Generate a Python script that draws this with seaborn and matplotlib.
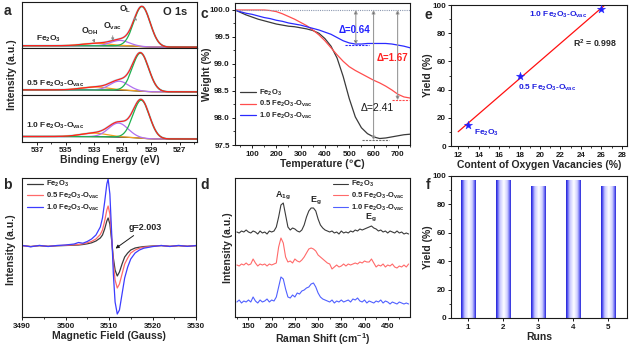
import numpy as np
import pandas as pd
import matplotlib
matplotlib.use("Agg")
import matplotlib.pyplot as plt
import seaborn as sns
from matplotlib.ticker import MultipleLocator, FormatStrFormatter, FixedLocator
from matplotlib.colors import LinearSegmentedColormap

# ---------------------------------------------------------------- labels
FE = r"Fe$_2$O$_3$"
S05 = r"0.5 Fe$_2$O$_3$-O$_{vac}$"
S10 = r"1.0 Fe$_2$O$_3$-O$_{vac}$"
samples = [FE, S05, S10]

# ---------------------------------------------------------------- (a) XPS O 1s fit components
ol_center = [529.65, 529.75, 529.70]
ol_height = [40.0, 38.0, 38.0]
ol_fwhm = [1.35, 1.35, 1.35]
ov_center = [531.20, 531.25, 531.30]
ov_height = [5.5, 9.0, 14.0]
ov_fwhm = [1.50, 1.50, 1.60]
oh_center = [532.8, 532.9, 533.0]
oh_height = [2.5, 3.0, 3.5]
oh_fwhm = [2.2, 2.2, 2.2]
bg_high = [2.5, 5.0, 5.0]
bg_low = [1.0, 3.0, 2.5]
be_ticks = [537, 535, 533, 531, 529, 527]

# ---------------------------------------------------------------- (b) EPR
field = [3490, 3492, 3494, 3496, 3498, 3500, 3502, 3503, 3504, 3505, 3506, 3507,
         3508, 3508.5, 3509, 3509.5, 3509.8, 3510.2, 3510.6, 3511, 3511.4, 3511.9,
         3512.4, 3513, 3513.6, 3514.3, 3515, 3516, 3517, 3518, 3520, 3522, 3524,
         3526, 3528, 3530]
epr_fe = [0.5, -0.5, 0.3, -0.3, 0.2, 0.5, 0.8, 1.0, 1.5, 2.2, 3.2, 5, 8, 11, 17, 25,
          28, 22, 6, -12, -24, -30, -26, -18, -11, -7, -4, -2, -1.2, -0.6, 0, 0.4,
          -0.3, 0.3, -0.2, 0.3]
epr_05 = [0.3, -0.6, 0.5, -0.4, 0.4, 0.7, 1.2, 1.5, 2.2, 3.2, 4.6, 7, 11.5, 16, 25,
          36, 40, 32, 9, -17, -34, -42, -38, -28, -18, -12, -7, -4, -2.2, -1.2,
          -0.3, 0.5, -0.4, 0.4, -0.3, 0.4]
epr_10 = [0.6, -0.8, 0.6, -0.5, 0.5, 1.0, 2.0, 3.5, 2.8, 4.5, 7, 11, 19, 28, 44, 62,
          67, 52, 14, -28, -56, -68, -64, -48, -32, -21, -13, -7, -4, -2.2, -0.6,
          0.5, -0.5, 0.6, -0.4, 0.5]

# ---------------------------------------------------------------- (c) TGA
temp = [30, 50, 75, 100, 125, 150, 175, 200, 225, 250, 275, 300, 325, 350, 375, 400,
        425, 450, 475, 500, 525, 550, 575, 600, 625, 650, 675, 700, 725, 750]
tga_fe = [100.00, 99.96, 99.91, 99.87, 99.83, 99.80, 99.77, 99.74, 99.72, 99.70,
          99.69, 99.67, 99.65, 99.62, 99.57, 99.47, 99.33, 99.11, 98.77, 98.36,
          98.02, 97.82, 97.71, 97.65, 97.62, 97.63, 97.65, 97.67, 97.69, 97.70]
tga_05 = [100.00, 100.00, 100.00, 100.00, 100.00, 100.00, 99.99, 99.97, 99.93, 99.88,
          99.83, 99.77, 99.71, 99.63, 99.54, 99.43, 99.30, 99.17, 99.05, 98.95,
          98.88, 98.82, 98.76, 98.70, 98.65, 98.59, 98.52, 98.44, 98.39, 98.37]
tga_10 = [100.00, 99.97, 99.94, 99.92, 99.89, 99.86, 99.84, 99.81, 99.79, 99.76,
          99.74, 99.72, 99.69, 99.66, 99.63, 99.59, 99.55, 99.49, 99.43, 99.39,
          99.37, 99.37, 99.38, 99.38, 99.38, 99.38, 99.37, 99.35, 99.33, 99.30]
tga_loss = [2.41, 1.67, 0.64]

# ---------------------------------------------------------------- (d) Raman
raman_shift = list(range(125, 500, 5))
raman_fe = [85, 84, 86, 85, 87, 85, 84, 86, 85, 83, 86, 84, 85, 83, 86, 85, 86, 90,
            100, 112, 114, 102, 90, 87, 89, 88, 86, 85, 87, 92, 100, 106, 109, 109,
            106, 98, 92, 89, 87, 86, 85, 86, 84, 85, 83, 86, 84, 85, 84, 86, 85, 87,
            86, 88, 87, 88, 89, 90, 91, 89, 88, 86, 87, 85, 86, 84, 86, 85, 84, 86,
            84, 85, 83, 84, 83]
raman_05 = [52, 51, 53, 52, 54, 52, 53, 58, 54, 51, 53, 52, 53, 51, 53, 52, 53, 54,
            70, 79, 74, 60, 55, 56, 54, 58, 56, 55, 57, 60, 64, 68, 69, 68, 66, 62,
            60, 58, 56, 54, 53, 48, 50, 52, 50, 51, 53, 51, 53, 52, 53, 54, 53, 55,
            54, 56, 55, 55, 58, 54, 50, 52, 51, 53, 50, 52, 51, 53, 50, 49, 51, 50,
            52, 50, 53]
raman_10 = [15, 17, 14, 16, 15, 17, 15, 20, 16, 14, 17, 15, 16, 18, 15, 17, 16, 20,
            30, 40, 38, 28, 20, 19, 22, 20, 24, 23, 26, 27, 29, 30, 33, 34, 30, 24,
            20, 18, 17, 16, 15, 17, 14, 16, 15, 17, 15, 16, 17, 15, 18, 17, 19, 16,
            15, 17, 14, 16, 15, 14, 16, 15, 17, 14, 16, 15, 13, 15, 14, 13, 15, 14,
            13, 14, 13]

# ---------------------------------------------------------------- (e) yield vs vacancy content
vac_content = [13.0, 18.0, 26.0]
yield_vs_vac = [15.0, 50.0, 97.0]

# ---------------------------------------------------------------- (f) recycling runs
runs = [1, 2, 3, 4, 5]
run_yield = [97, 97, 93, 97, 93]

# ---------------------------------------------------------------- style
sns.set_theme(style="ticks")
plt.rcParams["font.family"] = ["Liberation Sans", "DejaVu Sans"]
plt.rcParams.update({
    "font.weight": "bold",
    "axes.labelweight": "bold",
    "mathtext.default": "regular",
    "axes.linewidth": 0.8,
    "axes.edgecolor": "#1a1a1a",
    "xtick.color": "#1a1a1a",
    "ytick.color": "#1a1a1a",
    "xtick.direction": "out",
    "ytick.direction": "out",
    "xtick.major.size": 2.5,
    "ytick.major.size": 2.5,
    "xtick.minor.size": 1.5,
    "ytick.minor.size": 1.5,
    "xtick.major.width": 0.7,
    "ytick.major.width": 0.7,
    "xtick.minor.width": 0.6,
    "ytick.minor.width": 0.6,
    "xtick.labelsize": 5.8,
    "ytick.labelsize": 5.8,
    "xtick.major.pad": 1.5,
    "ytick.major.pad": 1.2,
    "axes.labelsize": 7.5,
    "axes.labelpad": 1.0,
})

BLACK = "#3a3a3a"
RED = "#ff4d4d"
BLUE = "#3c3cff"

FIG_W, FIG_H = 630, 349
fig = plt.figure(figsize=(FIG_W / 100, FIG_H / 100), dpi=100)


def place(left, top, right, bottom):
    return fig.add_axes([left / FIG_W, 1 - bottom / FIG_H,
                         (right - left) / FIG_W, (bottom - top) / FIG_H])


def fig_text(x, y, s, **kw):
    fig.text(x / FIG_W, 1 - y / FIG_H, s, **kw)


def gauss(x, c, h, w):
    return h * np.exp(-4 * np.log(2) * ((x - c) / w) ** 2)


def legend_small(ax, **kw):
    leg = ax.legend(frameon=False, fontsize=5.5, handlelength=2.0,
                    handletextpad=0.4, labelspacing=0.2, borderpad=0.2, **kw)
    for t in leg.get_texts():
        t.set_fontweight("bold")
    return leg


# ================================================================ (a)
be = np.linspace(538.05, 525.8, 500)
edges = np.linspace(1.5, 141.5, 4)
label_y = [9.2, 11.4, 15.7]
xps_axes = []
for i in range(3):
    ax = place(22, edges[i], 197, edges[i + 1])
    g_l = gauss(be, ol_center[i], ol_height[i], ol_fwhm[i])
    g_v = gauss(be, ov_center[i], ov_height[i], ov_fwhm[i])
    g_h = gauss(be, oh_center[i], oh_height[i], oh_fwhm[i])
    total = g_l + g_v + g_h
    # Shirley-type background: step proportional to the area on the low-BE side
    cum = np.cumsum(total[::-1])[::-1]
    bg = bg_low[i] + (bg_high[i] - bg_low[i]) * cum / cum[0]
    sns.lineplot(x=be, y=total + bg, ax=ax, color="#b4eef6", lw=1.6, errorbar=None)
    sns.lineplot(x=be, y=bg, ax=ax, color="#202020", lw=0.8, errorbar=None)
    sns.lineplot(x=be, y=g_h + bg, ax=ax, color="#f0a020", lw=0.9, errorbar=None)
    sns.lineplot(x=be, y=g_v + bg, ax=ax, color="#b070f0", lw=0.9, errorbar=None)
    sns.lineplot(x=be, y=g_l + bg, ax=ax, color="#20b050", lw=0.9, errorbar=None)
    sns.lineplot(x=be, y=total + bg, ax=ax, color="#ff2020", lw=0.9, errorbar=None)
    ax.set_xlim(538.05, 525.8)
    ax.set_ylim(0, 46.7)
    ax.set_yticks([])
    ax.set_ylabel("")
    ax.xaxis.set_major_locator(FixedLocator(be_ticks))
    ax.xaxis.set_minor_locator(FixedLocator([t - 1 for t in be_ticks]))
    if i < 2:
        ax.tick_params(axis="x", which="both", bottom=False, labelbottom=False)
    else:
        ax.set_xlabel("Binding Energy (eV)")
    left = 537.1 if i == 0 else 537.75
    ax.text(left, label_y[i], samples[i], fontsize=6.0, ha="left", va="center")
    xps_axes.append(ax)

ax = xps_axes[0]
ax.text(526.5, 36.5, "O 1s", fontsize=8, ha="right", va="center")
arrow_kw = dict(arrowstyle="-|>", color="#8a8a8a", lw=0.6, mutation_scale=4,
                shrinkA=0, shrinkB=0)
ax.annotate(r"O$_L$", xy=(530.0, 27.5), xytext=(530.8, 38.5), fontsize=6.3,
            ha="center", va="center", arrowprops=arrow_kw)
ax.annotate(r"O$_{OH}$", xy=(532.95, 5.5), xytext=(533.3, 16.5), fontsize=6.3,
            ha="center", va="center", arrowprops=arrow_kw)
ax.annotate(r"O$_{vac}$", xy=(531.7, 7.2), xytext=(531.7, 21.5), fontsize=6.3,
            ha="center", va="center", arrowprops=arrow_kw)
fig_text(12, 75, "Intensity (a.u.)", rotation=90, ha="center", va="center",
         fontsize=7.5, fontweight="bold")

# ================================================================ (b)
ax = place(22, 178, 196, 317)
epr = pd.DataFrame({"field": field * 3,
                    "signal": epr_fe + epr_05 + epr_10,
                    "sample": [FE] * len(field) + [S05] * len(field) + [S10] * len(field)})
sns.lineplot(data=epr, x="field", y="signal", hue="sample", hue_order=samples,
             palette=[BLACK, "#ff6a6a", BLUE], lw=0.9, ax=ax, errorbar=None)
ax.set_xlim(3490, 3530)
ax.set_ylim(-71, 68)
ax.set_yticks([])
ax.set_ylabel("")
ax.xaxis.set_major_locator(MultipleLocator(10))
ax.xaxis.set_minor_locator(MultipleLocator(5))
ax.set_xlabel("Magnetic Field (Gauss)")
legend_small(ax, loc="upper left", bbox_to_anchor=(0.0, 1.03))
ax.annotate("g=2.003", xy=(3511.5, -2.5), xytext=(3514.6, 19), fontsize=6.5,
            ha="left", va="center",
            arrowprops=dict(arrowstyle="-|>", color="#1a1a1a", lw=0.7,
                            mutation_scale=5, shrinkA=1, shrinkB=0))
fig_text(11, 250, "Intensity (a.u.)", rotation=90, ha="center", va="center",
         fontsize=7.5, fontweight="bold")

# ================================================================ (c)
ax = place(235, 2.7, 410, 145)
tga = pd.DataFrame({"temp": temp * 3,
                    "weight": tga_fe + tga_05 + tga_10,
                    "sample": [FE] * len(temp) + [S05] * len(temp) + [S10] * len(temp)})
sns.lineplot(data=tga, x="temp", y="weight", hue="sample", hue_order=samples,
             palette=[BLACK, RED, "#2a2aff"], lw=0.9, ax=ax, errorbar=None)
ax.set_xlim(30, 750)
ax.set_ylim(97.5, 100.135)
ax.xaxis.set_major_locator(MultipleLocator(100))
ax.xaxis.set_minor_locator(MultipleLocator(50))
ax.yaxis.set_major_locator(MultipleLocator(0.5))
ax.yaxis.set_minor_locator(MultipleLocator(0.25))
ax.yaxis.set_major_formatter(FormatStrFormatter("%.1f"))
ax.set_xlabel("Temperature (\u2103)")
ax.set_ylabel("")
ax.axhline(100.0, color="#8c98b0", lw=0.8, ls=(0, (1, 1)))
legend_small(ax, loc="lower left", bbox_to_anchor=(0.0, 0.13))

arrow_x = [600, 699, 527]
level_span = [(552, 662), (675, 745), (484, 580)]
level_color = ["#707070", RED, "#2a2aff"]
label_pos = [(614, 98.19), (676, 99.11), (521, 99.63)]
label_color = ["#1a1a1a", "#ff2020", "#2020ff"]
label_weight = ["normal", "bold", "bold"]
label_size = [7.5, 7, 7]
for k in range(3):
    end = 100.0 - tga_loss[k]
    ax.annotate("", xy=(arrow_x[k], end), xytext=(arrow_x[k], 100.0),
                arrowprops=dict(arrowstyle="<|-|>", ec="#9a9a9a", fc="#1a1a1a",
                                lw=0.8, mutation_scale=5, shrinkA=0, shrinkB=0))
    ax.plot(level_span[k], [end, end], color=level_color[k], lw=0.8, ls=(0, (2, 1)))
    ax.text(*label_pos[k], f"\u0394={tga_loss[k]:.2f}", color=label_color[k],
            fontsize=label_size[k], fontweight=label_weight[k], ha="center", va="center")
fig_text(207, 74, "Weight (%)", rotation=90, ha="center", va="center",
         fontsize=7.5, fontweight="bold")

# ================================================================ (d)
ax = place(235, 178, 410, 317)
n = len(raman_shift)
raman = pd.DataFrame({"shift": raman_shift * 3,
                      "intensity": raman_fe + raman_05 + raman_10,
                      "sample": [FE] * n + [S05] * n + [S10] * n})
sns.lineplot(data=raman, x="shift", y="intensity", hue="sample", hue_order=samples,
             palette=[BLACK, "#ff6a6a", "#5060ff"], lw=0.8, ax=ax, errorbar=None)
ax.set_xlim(121, 498)
ax.set_ylim(0, 139)
ax.set_yticks([])
ax.set_ylabel("")
ax.xaxis.set_major_locator(MultipleLocator(50))
ax.xaxis.set_minor_locator(MultipleLocator(25))
ax.set_xlabel(r"Raman Shift (cm$^{-1}$)")
legend_small(ax, loc="upper right", bbox_to_anchor=(1.0, 1.03))
ax.text(225, 121, r"A$_{1g}$", fontsize=6.5, ha="center", va="center")
ax.text(294, 116, r"E$_g$", fontsize=6.5, ha="center", va="center")
ax.text(413, 99, r"E$_g$", fontsize=6.5, ha="center", va="center")
fig_text(228, 248, "Intensity (a.u.)", rotation=90, ha="center", va="center",
         fontsize=7.5, fontweight="bold")

# ================================================================ (e)
ax = place(451, 5, 627, 146)
slope, intercept = np.polyfit(vac_content, yield_vs_vac, 1)
pred = slope * np.array(vac_content) + intercept
resid = np.array(yield_vs_vac) - pred
r2 = 1 - np.sum(resid ** 2) / np.sum((np.array(yield_vs_vac) - np.mean(yield_vs_vac)) ** 2)
fit_x = np.array([12.0, (101.0 - intercept) / slope])
sns.lineplot(x=fit_x, y=slope * fit_x + intercept, ax=ax, color="#ff1010", lw=0.9,
             errorbar=None)
sns.scatterplot(x=vac_content, y=yield_vs_vac, ax=ax, marker="*", s=38,
                color="#2020ff", edgecolor="#2020ff", linewidth=0.3, zorder=5)
ax.set_xlim(11.3, 28.5)
ax.set_ylim(0, 100)
ax.xaxis.set_major_locator(MultipleLocator(2))
ax.xaxis.set_minor_locator(MultipleLocator(1))
ax.yaxis.set_major_locator(MultipleLocator(20))
ax.yaxis.set_minor_locator(MultipleLocator(10))
ax.set_xlabel("Content of Oxygen Vacancies (%)")
ax.set_ylabel("")
pt_label_pos = [(13.5, 9.3), (17.8, 41), (18.9, 93)]
for k in range(3):
    ax.text(*pt_label_pos[k], samples[k], color="#2020e0", fontsize=6.0,
            ha="left", va="center")
ax.text(23.2, 73, f"R$^2$ = {r2:.3f}", fontsize=6.3, ha="left", va="center")
fig_text(428, 75, "Yield (%)", rotation=90, ha="center", va="center",
         fontsize=7.5, fontweight="bold")

# ================================================================ (f)
ax = place(451, 176, 627, 318)
sns.barplot(x=runs, y=run_yield, native_scale=True, width=0.4, ax=ax,
            color="#3030e0", errorbar=None)
# cylinder-like shading across each bar
bar_cmap = LinearSegmentedColormap.from_list(
    "cylinder", [(0.0, "#2020d0"), (0.08, "#4646ee"), (0.25, "#c4c4ff"),
                 (0.52, "#ffffff"), (0.76, "#cfcfff"), (0.92, "#6262f2"),
                 (1.0, "#2424d4")])
shade = np.linspace(0, 1, 128)[None, :]
for p in list(ax.patches):
    x0, y0, w, h = p.get_x(), p.get_y(), p.get_width(), p.get_height()
    im = ax.imshow(shade, cmap=bar_cmap, extent=(x0, x0 + w, y0, y0 + h),
                   aspect="auto", interpolation="bilinear", zorder=p.get_zorder() + 0.1)
    im.set_clip_path(p)
    p.set_edgecolor("#1a1ab0")
    p.set_linewidth(0.4)
ax.set_aspect("auto")
ax.set_xlim(0.52, 5.53)
ax.set_ylim(0, 100)
ax.set_xticks(runs)
ax.set_xticklabels([str(r) for r in runs])
ax.yaxis.set_major_locator(MultipleLocator(20))
ax.yaxis.set_minor_locator(MultipleLocator(10))
ax.set_xlabel("Runs")
ax.set_ylabel("")
fig_text(428, 247, "Yield (%)", rotation=90, ha="center", va="center",
         fontsize=7.5, fontweight="bold")

# ---------------------------------------------------------------- panel letters
for letter, (x, y) in zip("abcdef", [(7, 11), (7, 185), (204, 14), (205, 185),
                                     (428, 15), (428, 185)]):
    fig_text(x, y, letter, fontsize=10, fontweight="bold", ha="center", va="center")

fig.savefig("out.png", dpi=100)
